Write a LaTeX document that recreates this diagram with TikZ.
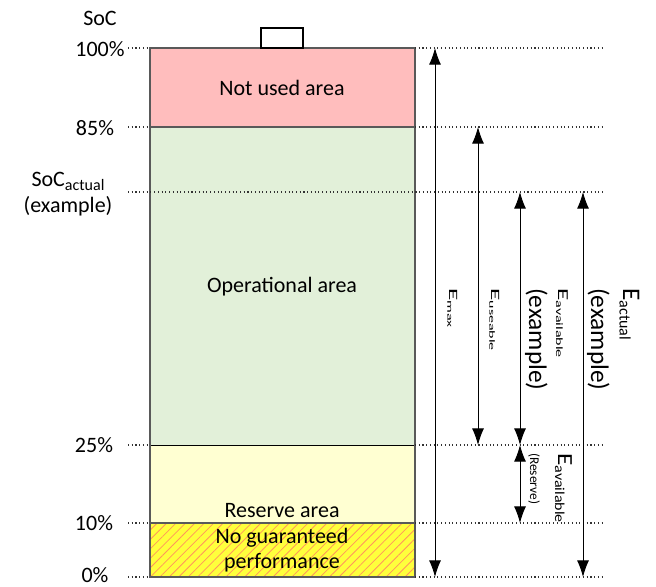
\documentclass[tikz,border=0pt]{standalone}
\usepackage{fontspec}
\setmainfont{Carlito}
\usepackage{graphicx}
\usepackage{xcolor}
\usetikzlibrary{arrows.meta, patterns.meta, positioning}

\definecolor{notusedc}{RGB}{255,189,189}
\definecolor{operc}{RGB}{226,240,217}
\definecolor{reservec}{RGB}{255,255,210}
\definecolor{nogc}{RGB}{255,255,60}
\definecolor{hatchc}{RGB}{255,150,90}

\newcommand{\lowtxt}[1]{\raisebox{-2.5pt}{\fontsize{12}{12}\selectfont #1}}
\newcommand{\Elbl}[2][1]{\scalebox{1}[#1]{\fontsize{19}{19}\selectfont E\lowtxt{#2}}}

\tikzset{
	lvl/.style={dotted, line width=0.8pt, black!80},
	cell/.style={draw=black!65, line width=1pt},
	arr/.style={{Latex[length=12.5pt,width=9pt]}-{Latex[length=12.5pt,width=9pt]}, line width=0.7pt},
	lbl/.style={font=\fontsize{16.5}{19}\selectfont, inner sep=0pt, align=center},
	vlbl/.style={rotate=-90, anchor=base west, inner sep=0pt}
}

\begin{document}
\begin{tikzpicture}[x=0.75pt, y=-0.75pt]
	\useasboundingbox (0,0) rectangle (656,586);

	% battery
	\fill[notusedc] (150,48) rectangle (415,127);
	\fill[operc] (150,127) rectangle (415,445);
	\fill[reservec] (150,445) rectangle (415,523);
	\fill[nogc] (150,523) rectangle (415,577);
	\fill[pattern={Lines[angle=45, distance=5pt, line width=0.6pt]}, pattern color=hatchc] (150,523) rectangle (415,577);
	\foreach \yy in {127, 523}
		\draw[cell] (150,\yy) -- (415,\yy);
	\draw[line width=0.7pt] (150,445) -- (415,445);
	\draw[cell] (150,48) rectangle (415,577);
	\draw[fill=white, line width=0.8pt] (261,48) rectangle (303,28);

	% levels
	\node[lbl] (soc) at (100,18) {SoC};
	\foreach \nm/\xx/\yy/\ty/\txt in {p100/100/48/49/100\%, p85/95/127/128/85\%, p25/94/445/445/25\%, p10/94/523/523/10\%, p0/95/577/575/0\%}
	{
		\node[lbl] (\nm) at (\xx,\ty) {\txt};
		\draw[lvl] (128,\yy) -- (150,\yy);
		\draw[lvl] (415,\yy) -- (605,\yy);
	}
	\node[lbl] (socact) at (68,194) {SoC\lowtxt{actual}\\(example)};
	\draw[lvl] (128,192) -- (605,192);

	% areas
	\node[lbl] (notused) at (282,88) {Not used area};
	\node[lbl] (operational) at (282,287) {Operational area};
	\node[lbl] (reserve) at (282,511) {Reserve area};
	\node[lbl] (noguar) at (282,550) {No guaranteed\\performance};

	% energies
	\foreach \nm/\xx/\ya/\yb in {max/435/48/577, use/478/127/445, avail/520/192/445, res/520/445/523, act/583/192/577}
	{
		\coordinate (\nm T) at (\xx,\ya);
		\coordinate (\nm B) at (\xx,\yb);
		\draw[arr] (\nm T) -- (\nm B);
	}
	\node[vlbl] (emax) at (449,288) {\Elbl[0.5]{max}};
	\node[vlbl] (euse) at (491,288) {\Elbl[0.5]{useable}};
	\node[vlbl] (eavail) at (558,288) {\Elbl[0.6]{available}};
	\node[vlbl, font=\fontsize{19}{19}\selectfont] (exavail) at (529,288) {(example)};
	\node[vlbl] (eact) at (623,288) {\Elbl{actual}};
	\node[vlbl, font=\fontsize{19}{19}\selectfont] (exact) at (591,288) {(example)};
	\node[vlbl, font=\fontsize{10}{10}\selectfont] (resv) at (530,453) {(Reserve)};
	\node[vlbl] (eres) at (558,453) {\Elbl[0.85]{available}};
\end{tikzpicture}
\end{document}
